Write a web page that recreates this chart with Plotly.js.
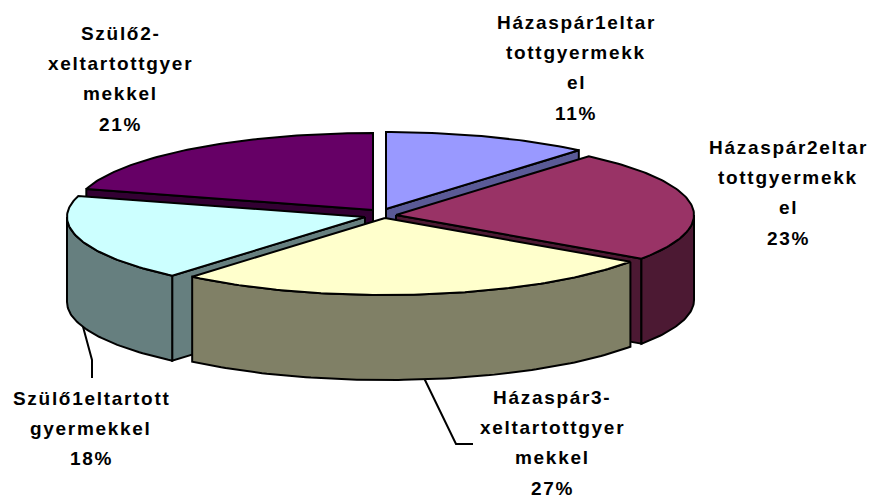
<!DOCTYPE html>
<html>
<head>
<meta charset="utf-8">
<script src="https://cdn.plot.ly/plotly-3.0.1.min.js"></script>
<style>html,body{margin:0;padding:0;background:#fff}#chart{width:871px;height:498px}
.annotation-text{letter-spacing:1.7px}</style>
</head>
<body>
<div id="chart"></div>
<script>
// Data
const categories = ["Házaspár1eltartottgyermekkel","Házaspár2eltartottgyermekkel","Házaspár3-xeltartottgyermekkel","Szülő1eltartottgyermekkel","Szülő2-xeltartottgyermekkel"];
const shares = [11.2, 23.4, 26.6, 18.2, 20.6];
const labelLines = [
  ["Házaspár1eltar","tottgyermekk","el"],
  ["Házaspár2eltar","tottgyermekk","el"],
  ["Házaspár3-","xeltartottgyer","mekkel"],
  ["Szülő1eltartott","gyermekkel"],
  ["Szülő2-","xeltartottgyer","mekkel"]
];
// Style and layout
const topColors  = ["#9999FF","#993366","#FFFFCC","#CCFFFF","#660066"];
const sideColors = ["#5A5A96","#4C1933","#808066","#667F7F","#330033"];
const apexX = [386,396,385,365,373];
const apexY = [209,215,218,217,210];
const labelX = [576,788,552,91,120];
const labelY = [22,147,397,398,33];
const lineGap = 30.4;
const RX = 298, RY = 77, DEPTH = 85;
const drawOrder = [4,0,1,3,2];

const rad = d => d*Math.PI/180;
const rim = (i,t,dy=0) => [apexX[i]+RX*Math.sin(rad(t)), apexY[i]-RY*Math.cos(rad(t))+dy];
const arc = (i,a,b,dy=0) => {
  const pts=[]; const n=Math.max(2,Math.ceil(Math.abs(b-a)));
  for(let k=0;k<=n;k++) pts.push(rim(i,a+(b-a)*k/n,dy));
  return pts;
};
const poly = (pts,fill) => ({
  type:"scatter",mode:"lines",
  x:pts.map(p=>p[0]).concat(pts[0][0]),
  y:pts.map(p=>p[1]).concat(pts[0][1]),
  fill:"toself",fillcolor:fill,
  line:{color:"#000",width:2,shape:"linear"},
  hoverinfo:"skip",showlegend:false
});

let acc=0; const total=shares.reduce((a,b)=>a+b,0);
const bounds=shares.map(s=>{const a=acc; acc+=s; return [a/total*360,acc/total*360];});
const traces=[];
drawOrder.forEach(i=>{
  const [t0,t1]=bounds[i];
  const apexTop=[apexX[i],apexY[i]], apexBot=[apexX[i],apexY[i]+DEPTH];
  if(Math.sin(rad(t0))<0) traces.push(poly([apexTop,rim(i,t0),rim(i,t0,DEPTH),apexBot],sideColors[i]));
  if(Math.sin(rad(t1))>0) traces.push(poly([apexTop,rim(i,t1),rim(i,t1,DEPTH),apexBot],sideColors[i]));
  const a=Math.max(t0,90), b=Math.min(t1,270);
  if(b>a) traces.push(poly(arc(i,a,b).concat(arc(i,b,a,DEPTH)),sideColors[i]));
  traces.push(poly([apexTop].concat(arc(i,t0,t1)),topColors[i]));
});

const font={family:"Liberation Sans, Arial, sans-serif",size:19,color:"#000",weight:700};
const annotations=[];
labelLines.forEach((lines,i)=>{
  const pct=Math.round(shares[i]/total*100)+"%";
  lines.concat(pct).forEach((txt,k)=>{
    annotations.push({xref:"x",yref:"y",x:labelX[i],y:labelY[i]+k*lineGap,text:txt,showarrow:false,
      xanchor:"center",yanchor:"middle",font});
  });
});

const leader=p=>({type:"path",path:p,line:{color:"#000",width:2},layer:"below"});
const layout={
  width:871,height:498,margin:{l:0,r:0,t:0,b:0},
  paper_bgcolor:"#fff",plot_bgcolor:"#fff",showlegend:false,
  xaxis:{range:[0,871],visible:false,fixedrange:true},
  yaxis:{range:[498,0],visible:false,fixedrange:true},
  annotations,
  shapes:[leader("M82,323 L92,360 L92,378"),leader("M424,378 L456,444 L473,444")]
};
Plotly.newPlot("chart",traces,layout,{displayModeBar:false,staticPlot:true});
</script>
</body>
</html>
